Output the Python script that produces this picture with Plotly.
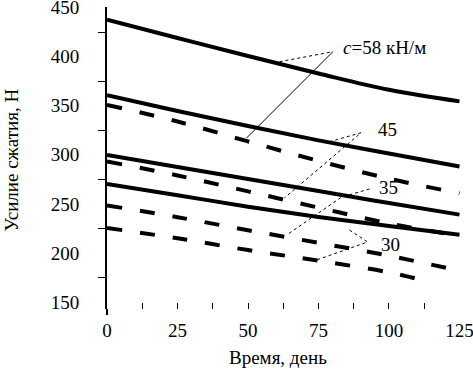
import plotly.graph_objects as go

# ---- data ----
days = [0, 25, 50, 75, 100, 125]
days_short = [0, 25, 50, 75, 100, 115]

solid_58 = [437.5, 419.0, 400.6, 382.8, 366.2, 354.4]
solid_45 = [360.7, 344.6, 329.3, 314.7, 301.3, 288.0]
solid_35 = [299.8, 287.6, 275.4, 263.1, 250.9, 239.1]
solid_30 = [270.3, 258.9, 247.2, 236.7, 227.5, 218.5]

dashed_58 = [350.8, 333.9, 313.6, 293.8, 275.7, 260.8]
dashed_45 = [293.2, 279.0, 262.8, 246.2, 230.1, 217.5]
dashed_35 = [248.5, 236.5, 223.2, 210.4, 197.2, 182.0]
dashed_30 = [225.5, 215.0, 203.0, 192.2, 180.3, 170.0]

y_tick_vals = [150, 200, 250, 300, 350, 400, 450]
y_minor_vals = [175, 225, 275, 325, 375, 425]
x_tick_vals = [0, 25, 50, 75, 100, 125]
x_minor_vals = [12.5, 25, 37.5, 50, 62.5, 75, 87.5, 100, 112.5]

x_title = "Время, день"
y_title = "Усилие сжатия, Н"

# labels and leader lines (x in days, y in N)
label_text = ["<i>c</i>=58 кН/м", "45", "35", "30"]
label_x = [83.0, 99.5, 99.8, 100.5]
label_y = [408.8, 325.3, 267.2, 208.8]
label_anchor = ["left", "center", "center", "center"]

lead58_dot_x = [61.2, 80.1]
lead58_dot_y = [394.8, 405.0]
lead58_thin_x = [80.1, 49.5]
lead58_thin_y = [405.0, 317.1]
lead45_x = [78.9, 90.1, 62.9]
lead45_y = [313.3, 322.5, 256.0]
lead35_x = [93.1, 83.2, 63.7]
lead35_y = [265.2, 257.0, 218.3]
lead30_x = [86.0, 92.4, 74.3]
lead30_y = [223.4, 211.2, 192.9]

FONT = "'Liberation Serif', 'Times New Roman', serif"
FS = 19

fig = go.Figure()

for ys in [solid_58, solid_45, solid_35, solid_30]:
    fig.add_trace(go.Scatter(x=days, y=ys, mode="lines",
                             line=dict(color="black", width=4, shape="spline"),
                             showlegend=False, hoverinfo="skip"))
for xs, ys in [(days, dashed_58), (days, dashed_45), (days, dashed_35), (days_short, dashed_30)]:
    fig.add_trace(go.Scatter(x=xs, y=ys, mode="lines",
                             line=dict(color="black", width=4, shape="spline", dash="15px,18px"),
                             showlegend=False, hoverinfo="skip"))

for xs, ys in [(lead58_dot_x, lead58_dot_y), (lead45_x, lead45_y),
               (lead35_x, lead35_y), (lead30_x, lead30_y)]:
    fig.add_trace(go.Scatter(x=xs, y=ys, mode="lines", xaxis="x2",
                             line=dict(color="black", width=1, dash="dot"),
                             showlegend=False, hoverinfo="skip"))
fig.add_trace(go.Scatter(x=lead58_thin_x, y=lead58_thin_y, mode="lines", xaxis="x2",
                         line=dict(color="black", width=1),
                         showlegend=False, hoverinfo="skip"))

for t, x, y, a in zip(label_text, label_x, label_y, label_anchor):
    fig.add_annotation(x=x, y=y, text=t, showarrow=False, xanchor=a, yanchor="middle",
                       font=dict(family=FONT, size=FS, color="black"))

fig.add_annotation(xref="paper", yref="paper", x=0.479, y=-0.159, text=x_title,
                   showarrow=False, xanchor="center", yanchor="middle",
                   font=dict(family=FONT, size=FS, color="black"))
fig.add_annotation(xref="paper", yref="paper", x=-0.268, y=0.493, text=y_title,
                   showarrow=False, textangle=-90, xanchor="center", yanchor="middle",
                   font=dict(family=FONT, size=FS, color="black"))

# y-axis line extension below the plot area
fig.add_shape(type="line", xref="paper", yref="paper", x0=0, x1=0, y0=-6/302, y1=0,
              line=dict(color="black", width=2))

xr = [0, 126.6]
fig.update_layout(
    width=473, height=371,
    margin=dict(l=107, r=9, t=7, b=62, autoexpand=False),
    paper_bgcolor="white", plot_bgcolor="white",
    font=dict(family=FONT, size=FS, color="black"),
    xaxis=dict(range=xr, tickvals=x_tick_vals, ticks="", showline=False, showgrid=False,
               zeroline=False, ticklabelstandoff=8, automargin=False,
               ticklabeloverflow="allow",
               tickfont=dict(family=FONT, size=FS, color="black")),
    xaxis2=dict(range=xr, overlaying="x", anchor="y", side="bottom", matches="x",
                tickvals=x_minor_vals, ticks="inside", ticklen=6, tickwidth=1,
                tickcolor="black", showticklabels=False, showline=False,
                showgrid=False, zeroline=False, automargin=False),
    yaxis=dict(range=[143.0, 450.5], tickvals=y_tick_vals, ticks="", showline=True,
               linecolor="black", linewidth=2, showgrid=False, zeroline=False,
               ticklabelstandoff=22, automargin=False, ticklabeloverflow="allow",
               minor=dict(tickvals=y_minor_vals, ticks="outside", ticklen=7,
                          tickcolor="black", tickwidth=1),
               tickfont=dict(family=FONT, size=FS, color="black")),
)

fig.write_html("out.html", config={"displayModeBar": False},
               post_script="document.body.style.margin='0';document.body.style.overflow='hidden';")
